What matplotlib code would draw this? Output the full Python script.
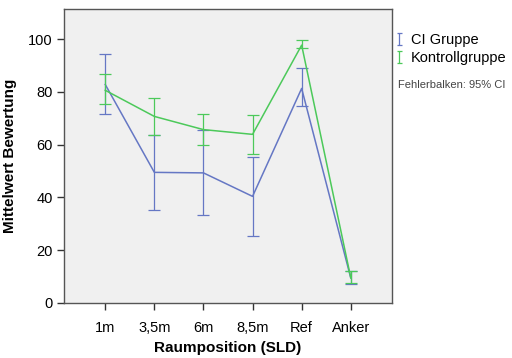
import numpy as np
import matplotlib.pyplot as plt
from matplotlib.lines import Line2D
from matplotlib.path import Path

plt.rcParams['font.family'] = ['Liberation Sans', 'DejaVu Sans']

positions = ['1m', '3,5m', '6m', '8,5m', 'Ref', 'Anker']

# CI Gruppe: mean, lower and upper 95% CI
ci_mean = [82.8, 49.5, 49.3, 40.4, 81.3, 9.5]
ci_low = [71.7, 35.3, 33.2, 25.2, 74.6, 7.2]
ci_high = [94.5, 63.7, 65.6, 55.5, 89.0, 12.0]

# Kontrollgruppe
ko_mean = [80.6, 70.7, 65.7, 63.9, 97.7, 9.6]
ko_low = [75.3, 63.6, 59.7, 56.4, 96.6, 7.5]
ko_high = [86.9, 77.8, 71.8, 71.1, 99.7, 12.0]

blue = '#6577c4'
green = '#4cc95a'

fig = plt.figure(figsize=(5.12, 3.58), dpi=100)
ax = fig.add_axes([64/512, 1-303/358, 328/512, 294/358])
ax.set_facecolor('#f0f0f0')

# "I" shaped marker for the legend
ibar = Path([(-0.4, -1), (0.4, -1), (0, -1), (0, 1), (-0.4, 1), (0.4, 1)],
            [Path.MOVETO, Path.LINETO, Path.MOVETO, Path.LINETO, Path.MOVETO, Path.LINETO])

x = np.arange(len(positions))
handles = []
for mean, low, high, c in [(ci_mean, ci_low, ci_high, blue),
                           (ko_mean, ko_low, ko_high, green)]:
    mean = np.array(mean)
    err = [mean - np.array(low), np.array(high) - mean]
    ax.plot(x, mean, color=c, lw=1.1)
    ax.errorbar(x, mean, yerr=err, fmt='none', ecolor=c, elinewidth=0.9,
                capsize=4.5, capthick=0.9)
    handles.append(Line2D([0], [0], lw=0, marker=ibar, markersize=9,
                          markeredgecolor=c, markerfacecolor='none', markeredgewidth=0.9))

ax.set_xlim(-0.84, 5.84)
ax.set_ylim(0, 111.4)
ax.set_xticks(x)
ax.set_xticklabels(positions)
ax.set_yticks([0, 20, 40, 60, 80, 100])
ax.tick_params(axis='both', direction='out', length=5, width=1, colors='#333333',
               labelsize=10.5, labelcolor='black', pad=3)
ax.tick_params(axis='x', pad=8)
for s in ax.spines.values():
    s.set_color('#555555')
    s.set_linewidth(1)

ax.set_xlabel('Raumposition (SLD)', fontweight='bold', fontsize=11, labelpad=4)
ax.set_ylabel('Mittelwert Bewertung', fontweight='bold', fontsize=11, labelpad=8)

fig.legend(handles, ['CI Gruppe', 'Kontrollgruppe'], loc='upper left',
           bbox_to_anchor=(395/512, 1-33/358), frameon=False, fontsize=10.5,
           handlelength=0.6, handletextpad=0.5, labelspacing=0.25,
           borderaxespad=0, borderpad=0)
fig.text(398/512, 1-85/358, 'Fehlerbalken: 95% CI', fontsize=8, color='#444444',
         va='center', ha='left')

fig.savefig('out.png', dpi=100)
